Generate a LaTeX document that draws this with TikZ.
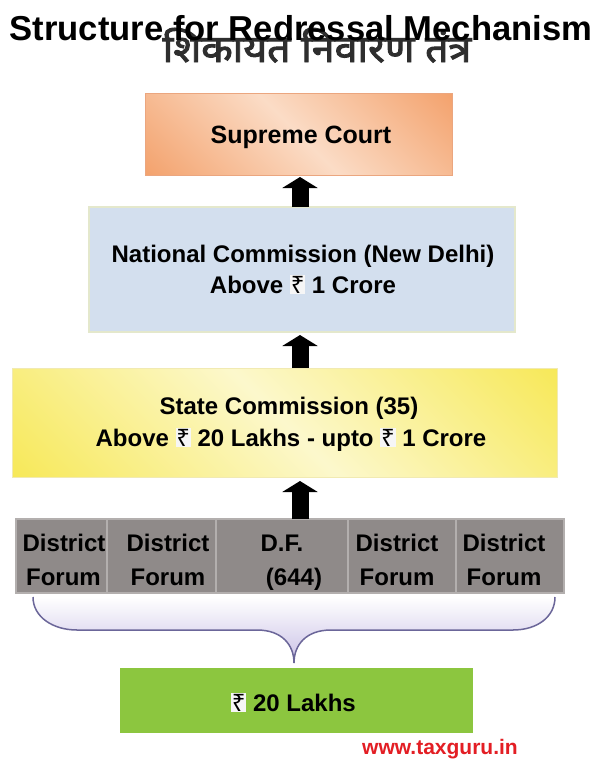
\documentclass[tikz,border=0pt]{standalone}
\usepackage{fontspec}
\setmainfont{Liberation Sans}
\newfontfamily\hindifont[Script=Devanagari, FakeBold=2.5, FakeStretch=1.08]{Noto Sans}
\newfontfamily\rupfont{Noto Sans}
\usetikzlibrary{arrows.meta,calc}

\definecolor{orA}{HTML}{F08A48}
\definecolor{orL}{HTML}{FBDCC6}
\definecolor{orE}{HTML}{EBA67F}
\definecolor{yeA}{HTML}{F5E229}
\definecolor{yeL}{HTML}{FCF8CC}
\definecolor{yeE}{HTML}{F1EAB2}
\definecolor{blF}{HTML}{D3DFEE}
\definecolor{blE}{HTML}{E4E8CC}
\definecolor{grF}{HTML}{8F8A89}
\definecolor{grE}{HTML}{B3AFAE}
\definecolor{gnF}{HTML}{8CC63F}
\definecolor{brL}{HTML}{6B6699}
\definecolor{brM}{HTML}{DDD7F1}
\definecolor{brB}{HTML}{C9C0E6}
\definecolor{hiC}{HTML}{2E2E2E}
\definecolor{webC}{HTML}{E31E24}
\definecolor{rupbg}{HTML}{F6F6F6}

\pgfdeclarehorizontalshading{supshade}{100bp}{color(0bp)=(orA); color(50bp)=(orL); color(100bp)=(orA)}
\pgfdeclarehorizontalshading{staShade}{100bp}{color(0bp)=(yeA); color(50bp)=(yeL); color(100bp)=(yeA)}

\newcommand\rup{{\setlength{\fboxsep}{0.8pt}\colorbox{rupbg}{\rupfont ₹}}}

\tikzset{
  boxnode/.style={rectangle, inner sep=0pt, outer sep=0pt, line width=1pt},
  txt/.style={anchor=base, inner sep=0pt, font=\fontsize{24}{28}\selectfont\bfseries},
  cellnode/.style={boxnode, fill=grF, draw=grE, line width=1.5pt, minimum height=74pt},
  upArrow/.style={line width=17pt, draw=black, -{Triangle[width=35pt,length=11pt]}},
}

\begin{document}
\begin{tikzpicture}[x=1pt,y=-1pt]
\useasboundingbox (0,0) rectangle (600,764);
\fill[white] (0,0) rectangle (600,764);

% header
\node[anchor=base, inner sep=0pt, text=hiC, font=\fontsize{38}{42}\selectfont\hindifont] (hindi) at (317,62) {शिकायत निवारण तंत्र};
\node[anchor=base, inner sep=0pt, font=\fontsize{34.6}{40}\selectfont\bfseries] (title) at (301,40) {Structure for Redressal Mechanism};

% boxes
\node[boxnode, shading=supshade, shading angle=45, draw=orE, minimum width=307pt, minimum height=82pt] (sup) at (298.5,134) {};
\node[boxnode, fill=blF, draw=blE, line width=1.5pt, minimum width=426pt, minimum height=125pt] (nat) at (302,269.5) {};
\node[boxnode, shading=staShade, shading angle=45, draw=yeE, minimum width=545pt, minimum height=109pt] (sta) at (284.5,422.5) {};

\node[cellnode, minimum width=91pt] (c1) at (61.5,556) {};
\node[cellnode, minimum width=109pt] (c2) at (161.5,556) {};
\node[cellnode, minimum width=132pt] (c3) at (282,556) {};
\node[cellnode, minimum width=108pt] (c4) at (402,556) {};
\node[cellnode, minimum width=108pt] (c5) at (510,556) {};

\node[boxnode, fill=gnF, minimum width=353pt, minimum height=65pt] (grn) at (296.5,700.5) {};

% arrows
\coordinate (ax) at (300,0);
\draw[upArrow] (nat.north -| ax) -- ([yshift=-2pt]sup.south -| ax);
\draw[upArrow] (sta.north -| ax) -- ([yshift=-3pt]nat.south -| ax);
\draw[upArrow] (c3.north -| ax) -- ([yshift=-4pt]sta.south -| ax);

% brace
\coordinate (bl) at (33,597);
\coordinate (br) at (555,597);
\coordinate (tip) at (294,663);
\path[top color=white, middle color=brM, bottom color=brB]
  (bl) .. controls (33,617) and (53,630) .. (77,630) -- (257,630)
  .. controls (282,630) and (294,645) .. (tip)
  .. controls (294,645) and (306,630) .. (331,630) -- (513,630)
  .. controls (537,630) and (555,617) .. (br) -- cycle;
\draw[brL, line width=1.5pt]
  (bl) .. controls (33,617) and (53,630) .. (77,630) -- (257,630)
  .. controls (282,630) and (294,645) .. (tip)
  .. controls (294,645) and (306,630) .. (331,630) -- (513,630)
  .. controls (537,630) and (555,617) .. (br);

% texts
\node[txt, font=\fontsize{25}{28}\selectfont\bfseries] (tsup) at (301,143) {Supreme Court};
\node[txt] (tnat1) at (303,262) {National Commission (New Delhi)};
\node[txt] (tnat2) at (303,293) {Above \rup{} 1 Crore};
\node[txt] (tsta1) at (289,414) {State Commission (35)};
\node[txt] (tsta2) at (291,446) {Above \rup{} 20 Lakhs - upto \rup{} 1 Crore};

\node[txt] (d1a) at (64,551) {District};
\node[txt] (d1b) at (63.5,585) {Forum};
\node[txt] (d2a) at (168,551) {District};
\node[txt] (d2b) at (168,585) {Forum};
\node[txt] (d3a) at (282,551) {D.F.};
\node[txt] (d3b) at (294,585) {(644)};
\node[txt] (d4a) at (397,551) {District};
\node[txt] (d4b) at (397,585) {Forum};
\node[txt] (d5a) at (504,551) {District};
\node[txt] (d5b) at (504,585) {Forum};

\node[txt] (tgrn) at (293.5,711) {\rup{} 20 Lakhs};

\node[anchor=base, inner sep=0pt, text=webC, font=\fontsize{21}{24}\selectfont\bfseries] (web) at (440,754) {www.taxguru.in};
\end{tikzpicture}
\end{document}
